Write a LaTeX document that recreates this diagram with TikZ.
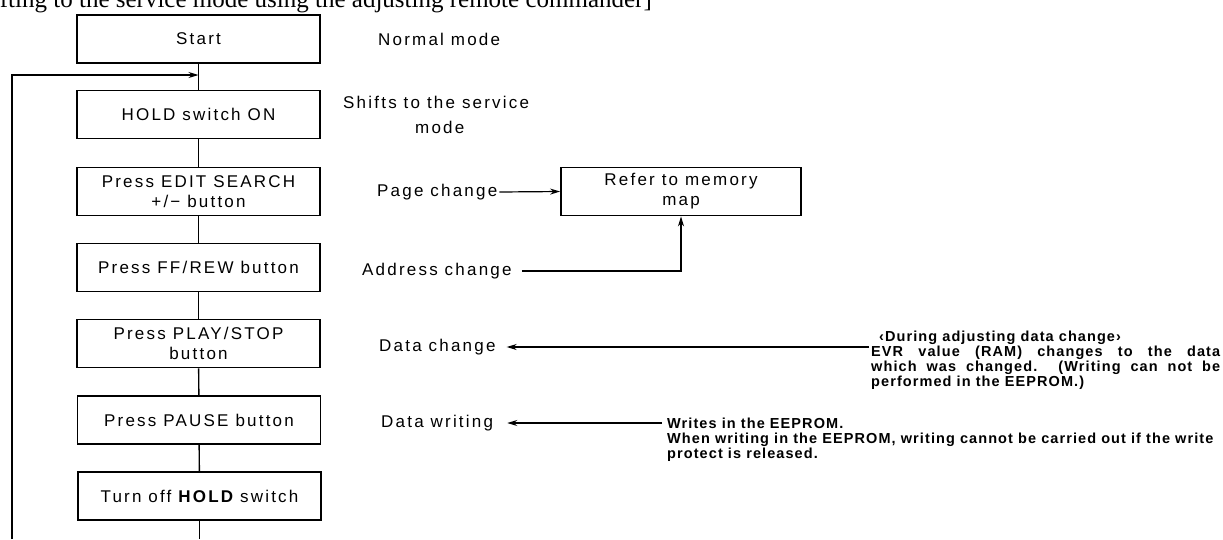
\documentclass[tikz,border=0pt]{standalone}
\usepackage{fontspec}
\setmainfont{Liberation Serif}
\newfontfamily\boxfont[LetterSpace=13]{Liberation Sans}
\newfontfamily\notefont[LetterSpace=7.5]{Liberation Sans}
\usetikzlibrary{arrows.meta}
\begin{document}
\begin{tikzpicture}[x=1pt,y=-1pt,
  stepbox/.style={draw,line width=1.8pt,minimum width=243pt,minimum height=48pt,inner sep=0pt,align=center,font=\boxfont\fontsize{17}{20}\selectfont},
  side/.style={anchor=west,inner sep=0pt,font=\boxfont\fontsize{17}{20}\selectfont},
  note/.style={inner sep=0pt,font=\notefont\bfseries\fontsize{14.5}{15}\selectfont},
  link/.style={line width=1.4pt},
  arr/.style={line width=1.2pt,-{Stealth[length=10pt,width=6pt]}}]
\clip (0,0) rectangle (1223,539);
\fill[white] (0,0) rectangle (1223,539);
% title (cut off by the top edge)
\node[anchor=base east,inner sep=0pt,font=\fontsize{25}{25}\selectfont] (title) at (652,7) {[Shifting to the service mode using the adjusting remote commander]};
% flow boxes
\node[stepbox] (start) at (198.5,39) {Start};
\node[stepbox] (hold) at (198.5,114.5) {HOLD switch ON};
\node[stepbox] (edit) at (198.5,191.5) {Press EDIT SEARCH\\+/− button};
\node[stepbox] (ff) at (198.5,267.5) {Press FF/REW button};
\node[stepbox] (play) at (198.5,343.5) {Press PLAY/STOP\\button};
\node[stepbox] (pause) at (199,420) {Press PAUSE button};
\node[stepbox] (turn) at (199.5,496) {Turn off {\bfseries HOLD} switch};
\node[stepbox,minimum width=240pt] (mem) at (681,191.5) {Refer to memory\\map};
% side labels
\node[side] (normal) at (378,39) {Normal mode};
\node[side,align=left,font=\boxfont\fontsize{17}{25}\selectfont] (shift) at (343,114.5) {Shifts to the service\\\hspace*{72pt}mode};
\node[side] (page) at (377,192) {Page change};
\node[side] (addr) at (362,271) {Address change};
\node[side] (dc) at (379,347) {Data change};
\node[side] (dw) at (381,423) {Data writing};
% notes
\node[note,anchor=base west] (note1) at (871,341) {\parbox[t]{349pt}{\hspace*{8pt}‹During adjusting data change›\\
EVR value (RAM) changes to the data\linebreak which was changed. (Writing can not be\linebreak performed in the EEPROM.)}};
\node[note,anchor=base west] (note2) at (667,428) {\parbox[t]{556pt}{Writes in the EEPROM.\\When writing in the EEPROM, writing cannot be carried out if the write\\protect is released.}};
% connectors
\coordinate (join) at (start.south |- 0,75);
\coordinate (loopbot) at (12,539);
\coordinate (endbot) at (turn.south |- 0,539);
\draw[link] (start) -- (hold);
\draw[link] (hold) -- (edit);
\draw[link] (edit) -- (ff);
\draw[link] (ff) -- (play);
\draw[link] (play) -- (pause);
\draw[link] (pause) -- (turn);
\draw[link] (turn) -- (endbot);
\draw[arr] (loopbot) |- (join);
\draw[arr] ([xshift=2pt]page.east) -- (mem.west);
\draw[arr] ([xshift=10pt]addr.east) -| (mem.south);
\draw[arr] ([xshift=-2pt]note1.west |- dc.east) -- ([xshift=11pt]dc.east);
\draw[arr] ([xshift=-5pt]note2.west |- dw.east) -- ([xshift=14pt]dw.east);
\end{tikzpicture}
\end{document}
